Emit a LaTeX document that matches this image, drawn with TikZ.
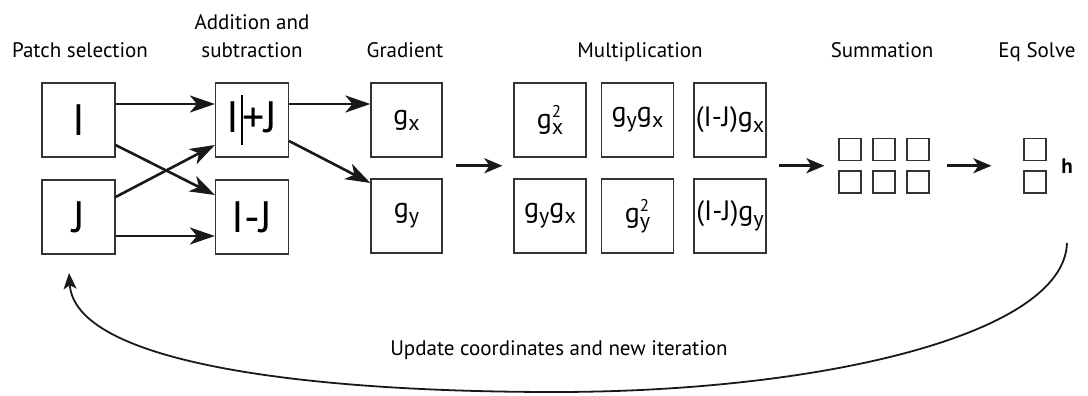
\documentclass[tikz,border=0pt]{standalone}
\usepackage{fontspec}
\setmainfont{PT Sans}
\usetikzlibrary{arrows.meta,calc}

% g with a subscript, and g with subscript and square
\newcommand\gsub[1]{g\raisebox{-6pt}{\fontsize{22}{22}\selectfont #1}}
\newcommand\gsq[1]{g\rlap{\raisebox{11pt}{\fontsize{17}{17}\selectfont 2}}\raisebox{-6pt}{\fontsize{22}{22}\selectfont #1}}
% text cursor mark
\newcommand\caret{\rlap{\kern1pt\rule[-13pt]{1.3pt}{50pt}}}

\begin{document}
\begin{tikzpicture}[x=1pt,y=-1pt,
  box/.style={draw=black!80, line width=1.2pt, inner sep=0pt,
    minimum width=73pt, minimum height=74pt},
  bigbox/.style={box, font=\fontsize{44}{44}\selectfont},
  gbox/.style={box, font=\fontsize{28}{28}\selectfont},
  cell/.style={draw=black!80, line width=1.2pt, inner sep=0pt,
    minimum width=22pt, minimum height=22pt},
  caption/.style={font=\fontsize{21}{25}\selectfont, anchor=base},
  flow/.style={line width=2.6pt, draw=black!90,
    -{Stealth[length=25pt,width=17pt,inset=7pt]}},
  shortflow/.style={line width=2.6pt, draw=black!90,
    -{Stealth[length=18pt,width=15pt,inset=5pt]}},
  loop/.style={line width=1.8pt, draw=black!90,
    -{Stealth[length=16pt,width=13pt,inset=4pt]}}]
\useasboundingbox (0,0) rectangle (1088,396);

% column captions
\node[caption] (capP) at (80,58) {Patch selection};
\node[caption] (capA1) at (252,30) {Addition and};
\node[caption] (capA2) at (252,58) {subtraction};
\node[caption] (capG) at (405,58) {Gradient};
\node[caption] (capM) at (640,58) {Multiplication};
\node[caption] (capS) at (882,58) {Summation};
\node[caption] (capE) at (1037,58) {Eq Solve};

% patches
\node[bigbox] (I) at (78.5,120) {I};
\node[bigbox] (J) at (78.5,217) {J};

% sum and difference
\node[bigbox] (Ip) at (252,120) {I\kern1pt\caret\kern2pt+J};
\node[bigbox] (Im) at (252,217) {I-J};

% gradients
\node[gbox, minimum width=71pt] (gx) at (406.5,120) {\gsub{x}};
\node[gbox, minimum width=71pt] (gy) at (406.5,216) {\gsub{y}};

% products
\node[gbox, minimum width=72pt] (m11) at (550,120) {\gsq{x}};
\node[gbox, minimum width=72pt] (m12) at (637.5,120) {\gsub{y}\gsub{x}};
\node[gbox, minimum width=72pt] (m13) at (730,120) {(I-J)\gsub{x}};
\node[gbox, minimum width=72pt] (m21) at (550,216) {\gsub{y}\gsub{x}};
\node[gbox, minimum width=72pt] (m22) at (637.5,216) {\gsq{y}};
\node[gbox, minimum width=72pt] (m23) at (730,216) {(I-J)\gsub{y}};

% summed terms
\foreach \c/\xx in {1/850,2/884,3/918}{
  \node[cell] (s1\c) at (\xx,149.5) {};
  \node[cell] (s2\c) at (\xx,182) {};
}

% solution
\node[cell] (e1) at (1035,149.5) {};
\node[cell] (e2) at (1035,182) {};
\node[font=\fontsize{21}{21}\selectfont\bfseries] (h) at (1067,166) {h};

% connectors
\draw[flow] ([yshift=16pt]I.east) -- ([yshift=16pt]Ip.west);
\draw[flow] ([yshift=-25pt]I.east) -- ([yshift=22pt]Im.west);
\draw[flow] ([yshift=20pt]J.east) -- ([yshift=-25pt]Ip.west);
\draw[flow] ([yshift=-19pt]J.east) -- ([yshift=-19pt]Im.west);
\draw[flow] ([yshift=16pt]Ip.east) -- ([yshift=16pt]gx.west);
\draw[flow] ([yshift=-21pt]Ip.east) -- ([yshift=33pt]gy.west);

\coordinate (smid) at ($(s11.south west)!0.5!(s21.north west)$);
\coordinate (ga) at ($(gx.east |- smid)+(13pt,0)$);
\coordinate (gb) at ($(m11.west |- smid)+(-11pt,0)$);
\draw[shortflow] (ga) -- (gb);
\coordinate (ma) at ($(m13.east |- smid)+(12pt,0)$);
\coordinate (mb) at ($(smid)+(-14pt,0)$);
\draw[shortflow] (ma) -- (mb);
\coordinate (sa) at ($(s13.east |- smid)+(17pt,0)$);
\coordinate (sb) at ($(e1.west |- smid)+(-32pt,0)$);
\draw[shortflow] (sa) -- (sb);

% iteration loop
\coordinate (la) at (1067,243);
\coordinate (lb) at (555,392);
\coordinate (lc) at ([xshift=-9.5pt,yshift=-18.5pt]J.south);
\draw[loop] (la) .. controls (1064,335) and (820,392) .. (lb)
            .. controls (300,392) and (75,362) .. (lc);
\node[caption] (capU) at (559,355) {Update coordinates and new iteration};
\end{tikzpicture}
\end{document}
